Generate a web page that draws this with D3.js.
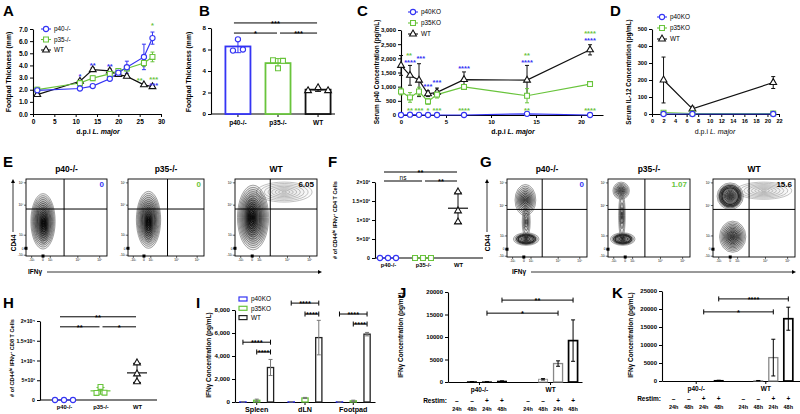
<!DOCTYPE html>
<html>
<head>
<meta charset="utf-8">
<title>IL-12 p40 / p35 figure</title>
<script src="https://cdn.jsdelivr.net/npm/d3@7"></script>
<style>
  body { margin: 0; background: #fff; }
  svg { font-family: "Liberation Sans", Arial, sans-serif; }
</style>
</head>
<body>
<div id="chart"></div>
<script>
// ---------- data ----------
// A: footpad thickness (mm)
var daysA = [1, 11, 14, 18, 20, 22, 26, 28];
var p40A = [1.95, 2.1, 2.3, 2.9, 3.4, 3.85, 4.7, 6.25];
var p40AErr = [0.1, 0.1, 0.1, 0.15, 0.2, 0.5, 1.05, 0.5];
var p35A = [2.0, 2.55, 2.95, 3.3, 3.55, 3.75, 4.2, 4.7];
var p35AErr = [0.2, 0.15, 0.2, 0.15, 0.15, 0.2, 0.3, 0.4];
var wtA = [1.6, 2.7, 3.65, 3.55, 3.25, 3.1, 2.4, 2.25];
var wtAErr = [0.1, 0.15, 0.15, 0.15, 0.1, 0.1, 0.1, 0.1];
var starsA = [
  {d: 11, v: 3.1, s: "*", c: "b"}, {d: 14, v: 4.05, s: "**", c: "b"},
  {d: 18, v: 3.95, s: "**", c: "b"}, {d: 28, v: 7.3, s: "*", c: "g"},
  {d: 25, v: 2.8, s: "**", c: "g"}, {d: 28.3, v: 2.9, s: "***", c: "g"},
  {d: 28.3, v: 2.4, s: "***", c: "b"}
];

// B: footpad thickness, day 28
var groupsB = ["p40-/-", "p35-/-", "WT"];
var pointsB = [[5.9, 6.95, 6.0], [5.0, 4.25, 4.95], [2.17, 2.45, 2.17]];
var sigB = [{a: 0, b: 2, v: 8.47, s: "***"}, {a: 0, b: 1, v: 7.53, s: "*"}, {a: 1, b: 2, v: 7.53, s: "***"}];

// C: serum p40 (pg/mL)
var daysC = [0, 1, 2, 3, 4, 7, 14, 21];
var wtC = [1750, 1400, 1230, 750, 800, 1250, 1230, 2300];
var wtCErr = [350, 350, 580, 100, 150, 270, 520, 180];
var p35C = [830, 620, 830, 480, 720, 990, 680, 1090];
var p35CErr = [120, 170, 150, 100, 120, 40, 250, 60];
var p40C = [0, 10, 5, 0, 0, 0, 40, 0];
var p40CErr = [0, 0, 0, 0, 0, 0, 20, 0];
var starsC = [
  {d: 0.9, v: 2130, s: "**", c: "g"}, {d: 1, v: 1880, s: "****", c: "b"},
  {d: 2.2, v: 2020, s: "***", c: "b"}, {d: 3, v: 1020, s: "***", c: "b"},
  {d: 4, v: 1160, s: "***", c: "b"}, {d: 7, v: 1660, s: "****", c: "b"},
  {d: 14, v: 2130, s: "**", c: "g"}, {d: 14, v: 1880, s: "****", c: "b"},
  {d: 21, v: 2910, s: "****", c: "g"}, {d: 21, v: 2660, s: "****", c: "b"},
  {d: 1, v: 180, s: "**", c: "g"}, {d: 2, v: 180, s: "***", c: "g"},
  {d: 3, v: 180, s: "*", c: "g"}, {d: 4, v: 180, s: "***", c: "g"},
  {d: 7, v: 180, s: "****", c: "g"}, {d: 14, v: 180, s: "**", c: "g"},
  {d: 21, v: 180, s: "****", c: "g"}
];

// D: serum IL-12 (pg/mL)
var daysD = [2, 7, 21];
var wtD = [200, 30, 185];
var wtDErr = [135, 15, 35];
var p35D = [8, 3, 3];
var p40D = [0, 0, 0];

// E / G: flow plot frequencies
var genotypes = ["p40-/-", "p35-/-", "WT"];
var freqE = ["0", "0", "6.05"];
var freqG = ["0", "1.07", "15.6"];
var flowTicks = ["-10³", "0", "10³", "10⁴", "10⁵"];

// F: # CD44hi IFNg+ CD4 T cells
var pointsF = [[0, 0, 0], [0, 0, 0], [1740, 1240, 950]];
var sigF = [{a: 0, b: 2, v: 2263, s: "**"}, {a: 0, b: 1, v: 2026, s: "ns"}, {a: 1, b: 2, v: 2026, s: "**"}];
var ticksF = [0, 500, 1000, 1500, 2000];
var tickLabF = ["0", "5×10²", "1×10³", "1.5×10³", "2×10³"];

// H: # CD44hi IFNg+ CD8 T cells
var pointsH = [[0, 0, 0], [1800, 3300, 1850], [9400, 6600, 4600]];
var sigH = [{a: 0, b: 2, v: 21066, s: "**"}, {a: 0, b: 1, v: 18528, s: "**"}, {a: 1, b: 2, v: 18528, s: "*"}];
var ticksH = [0, 5000, 10000, 15000, 20000];
var tickLabH = ["0", "5×10³", "1×10⁴", "1.5×10⁴", "2×10⁴"];

// I: IFNg by tissue
var tissuesI = ["Spleen", "dLN", "Footpad"];
var seriesI = ["p40KO", "p35KO", "WT"];
var p40I = [20, 20, 20], p40IErr = [15, 10, 10];
var p35I = [150, 350, 100], p35IErr = [100, 50, 60];
var wtI = [3000, 5600, 5900], wtIErr = [700, 1500, 150];
var sigI = [
  {t: "Spleen", a: 0, b: 2, v: 5200}, {t: "Spleen", a: 1, b: 2, v: 4350},
  {t: "dLN", a: 0, b: 2, v: 8600}, {t: "dLN", a: 1, b: 2, v: 7650},
  {t: "Footpad", a: 0, b: 2, v: 7650}, {t: "Footpad", a: 1, b: 2, v: 6780}
];

// J / K: IFNg after restimulation
var groupsJK = ["p40-/-", "WT"];
var restim = ["–", "–", "+", "+"];
var hours = ["24h", "48h", "24h", "48h"];
var p40J = [0, 60, 30, 180], p40JErr = [0, 40, 20, 80];
var wtJ = [0, 600, 4100, 9200], wtJErr = [0, 150, 600, 4600];
var sigJ = [{a: 3, b: 3, v: 18200, s: "**"}, {a: 2, b: 2, v: 15300, s: "*"}];
var p40K = [0, 0, 0, 150], p40KErr = [0, 0, 0, 60];
var wtK = [0, 100, 6500, 17300], wtKErr = [0, 40, 5100, 3200];
var sigK = [{a: 3, b: 3, v: 22800, s: "****"}, {a: 2, b: 2, v: 19200, s: "*"}];

// ---------- styles ----------
var BLUE = "#3434f4", GREEN = "#69c43c", BLACK = "#111";
var COL = {b: BLUE, g: GREEN};
var FONT = '"Liberation Sans", Arial, sans-serif';
var condStroke = ["#aaa", "#999", "#888", "#000"];
var condWidth = [1, 1, 1.3, 1.7];

var svg = d3.select("#chart").append("svg").attr("width", 800).attr("height", 414);

function txt(x, y, s, o) {
  o = o || {};
  return svg.append("text").attr("x", x).attr("y", y)
    .attr("font-size", o.size || 6).attr("font-weight", o.weight || "bold")
    .attr("text-anchor", o.anchor || "middle").attr("fill", o.fill || "#000")
    .attr("font-style", o.style || null).attr("font-family", FONT).text(s);
}

function rotLabel(x, y, parts, size) {
  size = size || 6.5;
  var t = svg.append("text").attr("transform", "translate(" + x + "," + y + ") rotate(-90)")
    .attr("text-anchor", "middle").attr("font-size", size).attr("font-weight", "bold").attr("font-family", FONT);
  var up = false;
  parts.forEach(function(p) {
    var s = t.append("tspan").text(p[0]);
    if (p[1] === "sup") { s.attr("font-size", size * 0.7).attr("dy", -2.5); up = true; }
    else if (up) { s.attr("dy", 2.5); up = false; }
  });
}

function dpiLabel(x, y, weight) {
  var t = svg.append("text").attr("x", x).attr("y", y).attr("text-anchor", "middle")
    .attr("font-size", 7).attr("font-weight", weight || "bold").attr("font-family", FONT);
  t.append("tspan").text("d.p.i ");
  t.append("tspan").attr("font-style", "italic").text("L. major");
}

function styleAxis(a, fs) {
  a.select(".domain").attr("stroke", "#000").attr("stroke-width", 1.1);
  a.selectAll(".tick line").attr("stroke", "#000").attr("stroke-width", 1);
  a.selectAll("text").attr("font-size", fs || 5.5).attr("font-weight", "bold")
    .attr("font-family", FONT).attr("fill", "#000");
  return a;
}

function marker(g, shape, x, y, color) {
  if (shape === "circle") {
    g.append("circle").attr("cx", x).attr("cy", y).attr("r", 2.6)
      .attr("fill", "#fff").attr("stroke", color).attr("stroke-width", 1.1);
  } else {
    var sym = shape === "square" ? d3.symbolSquare : d3.symbolTriangle;
    g.append("path").attr("d", d3.symbol(sym, shape === "square" ? 24 : 20)())
      .attr("transform", "translate(" + x + "," + y + ")")
      .attr("fill", "#fff").attr("stroke", color).attr("stroke-width", 1.1);
  }
}

function errBar(g, x, y0, y1, color, w, cap) {
  cap = cap || 2;
  g.append("line").attr("x1", x).attr("x2", x).attr("y1", y0).attr("y2", y1).attr("stroke", color).attr("stroke-width", w || 1);
  [y0, y1].forEach(function(yy) {
    g.append("line").attr("x1", x - cap).attr("x2", x + cap).attr("y1", yy).attr("y2", yy).attr("stroke", color).attr("stroke-width", w || 1);
  });
}

function letter(x, y, s) { txt(x, y, s, {size: 15, anchor: "start"}); }

function bracket(x1, x2, y, s, caps) {
  svg.append("line").attr("x1", x1).attr("x2", x2).attr("y1", y).attr("y2", y).attr("stroke", "#000").attr("stroke-width", 1);
  if (caps) {
    [x1, x2].forEach(function(xx) {
      svg.append("line").attr("x1", xx).attr("x2", xx).attr("y1", y - 2.5).attr("y2", y + 2.5).attr("stroke", "#000").attr("stroke-width", 1);
    });
  }
  if (s === "ns") txt((x1 + x2) / 2, y - 1.5, s, {size: 6.5, weight: "normal"});
  else txt((x1 + x2) / 2, y + 3, s, {size: 7.5});
}

function legend(x, y0, dy, items, kind) {
  items.forEach(function(it, i) {
    var y = y0 + i * dy;
    if (kind === "rect") {
      svg.append("rect").attr("x", x - 4).attr("y", y - 2).attr("width", 8).attr("height", 4)
        .attr("fill", "#fff").attr("stroke", it.color).attr("stroke-width", 1.2);
    } else {
      svg.append("line").attr("x1", x - 5).attr("x2", x + 5).attr("y1", y).attr("y2", y).attr("stroke", it.color).attr("stroke-width", 1.1);
      marker(svg, it.shape, x, y, it.color);
    }
    txt(x + 8, y + 2.2, it.name, {size: 6.4, weight: "normal", anchor: "start"});
  });
}

// ---------- line panels (A, C, D) ----------
function xyPanel(o) {
  var g = svg.append("g");
  var y0 = o.y.range()[0], x0 = o.x.range()[0];
  styleAxis(g.append("g").attr("transform", "translate(0," + y0 + ")")
    .call(d3.axisBottom(o.x).tickValues(o.xTicks).tickSize(3).tickSizeOuter(0).tickPadding(2)), o.fs);
  styleAxis(g.append("g").attr("transform", "translate(" + x0 + ",0)")
    .call(d3.axisLeft(o.y).tickValues(o.yTicks).tickSize(3).tickSizeOuter(0).tickPadding(2)), o.fs);
  o.series.forEach(function(s) {
    s.vals.forEach(function(v, i) {
      if (s.errs && s.errs[i] > 0) errBar(g, o.x(o.days[i]), o.y(v + s.errs[i]), o.y(Math.max(0, v - s.errs[i])), s.color, 1, 2);
    });
    g.append("path").datum(s.vals).attr("fill", "none").attr("stroke", s.color).attr("stroke-width", 1.2)
      .attr("d", d3.line().x(function(d, i) { return o.x(o.days[i]); }).y(function(d) { return o.y(d); }));
  });
  o.series.forEach(function(s) {
    s.vals.forEach(function(v, i) { marker(g, s.shape, o.x(o.days[i]), o.y(v), s.color); });
  });
  (o.stars || []).forEach(function(st) {
    txt(o.x(st.d), o.y(st.v) + 3, st.s, {size: 7.5, fill: COL[st.c]});
  });
}

// A
var xA = d3.scaleLinear().domain([0, 30]).range([33, 161]);
var yA = d3.scaleLinear().domain([0, 7]).range([114, 29]);
xyPanel({x: xA, y: yA, days: daysA, xTicks: [0, 5, 10, 15, 20, 25, 30], yTicks: d3.range(0, 8),
  series: [
    {vals: wtA, errs: wtAErr, color: BLACK, shape: "triangle"},
    {vals: p35A, errs: p35AErr, color: GREEN, shape: "square"},
    {vals: p40A, errs: p40AErr, color: BLUE, shape: "circle"}
  ], stars: starsA, fs: 6.5});
legend(46, 29, 10.5, [{name: "p40-/-", color: BLUE, shape: "circle"}, {name: "p35-/-", color: GREEN, shape: "square"}, {name: "WT", color: BLACK, shape: "triangle"}]);
rotLabel(11, 72, [["Footpad Thickness (mm)"]], 6.8);
dpiLabel(98, 134);
letter(3, 16, "A");

// C
var xC = d3.scaleLinear().domain([0, 22.44]).range([401, 603]);
var yC = d3.scaleLinear().domain([0, 3000]).range([115, 30]);
xyPanel({x: xC, y: yC, days: daysC, xTicks: [0, 5, 10, 15, 20], yTicks: d3.range(0, 3001, 500),
  series: [
    {vals: wtC, errs: wtCErr, color: BLACK, shape: "triangle"},
    {vals: p35C, errs: p35CErr, color: GREEN, shape: "square"},
    {vals: p40C, errs: p40CErr, color: BLUE, shape: "circle"}
  ], stars: starsC, fs: 6});
legend(413, 12, 11, [{name: "p40KO", color: BLUE, shape: "circle"}, {name: "p35KO", color: GREEN, shape: "square"}, {name: "WT", color: BLACK, shape: "triangle"}]);
rotLabel(379, 72, [["Serum p40 Concentration  (pg/mL)"]], 6.5);
dpiLabel(513, 134);
letter(357, 16, "C");

// D
var xD = d3.scaleLinear().domain([0, 22]).range([652, 779]);
var yD = d3.scaleLinear().domain([0, 500]).range([114, 29]);
xyPanel({x: xD, y: yD, days: daysD, xTicks: d3.range(0, 23, 2), yTicks: d3.range(0, 501, 100),
  series: [
    {vals: wtD, errs: wtDErr, color: BLACK, shape: "triangle"},
    {vals: p35D, color: GREEN, shape: "square"},
    {vals: p40D, color: BLUE, shape: "circle"}
  ], fs: 5.6});
legend(662, 17, 11, [{name: "p40KO", color: BLUE, shape: "circle"}, {name: "p35KO", color: GREEN, shape: "square"}, {name: "WT", color: BLACK, shape: "triangle"}]);
rotLabel(631, 72, [["Serum IL-12 Concentration  (pg/mL)"]], 6.3);
dpiLabel(715, 134, "normal");
letter(610, 16, "D");

// ---------- B: bar + points ----------
var xB = d3.scaleBand().domain(groupsB).range([211, 345]).paddingInner(0.375).paddingOuter(0.36);
var yB = d3.scaleLinear().domain([0, 8]).range([114, 28]);
var colB = [BLUE, GREEN, BLACK], shapeB = ["circle", "square", "triangle"];
var jitterB = [[-5, 0, 5], [-5, 0, 5], [-10, 0, 10]];
var axB = styleAxis(svg.append("g").attr("transform", "translate(0,114)")
  .call(d3.axisBottom(xB).tickSize(3).tickSizeOuter(0).tickPadding(3)), 6.5);
axB.select(".domain").attr("d", "M211,0H335");
styleAxis(svg.append("g").attr("transform", "translate(211,0)")
  .call(d3.axisLeft(yB).tickValues([0, 2, 4, 6, 8]).tickSize(3).tickSizeOuter(0).tickPadding(2)), 6.2);
groupsB.forEach(function(gname, i) {
  var m = d3.mean(pointsB[i]), sd = d3.deviation(pointsB[i]);
  var cx = xB(gname) + xB.bandwidth() / 2;
  svg.append("rect").attr("x", xB(gname)).attr("y", yB(m)).attr("width", xB.bandwidth()).attr("height", yB(0) - yB(m))
    .attr("fill", "#fff").attr("stroke", colB[i]).attr("stroke-width", 1.8);
  errBar(svg, cx, yB(m + sd), yB(m - sd), colB[i], 1, 3);
  pointsB[i].forEach(function(v, k) { marker(svg, shapeB[i], cx + jitterB[i][k], yB(v), colB[i]); });
});
sigB.forEach(function(s) {
  var c = function(k) { return xB(groupsB[k]) + xB.bandwidth() / 2; };
  bracket(c(s.a) - 4 + (s.a > 0 ? 6 : 0), c(s.b) - 1, yB(s.v), s.s, false);
});
rotLabel(191, 72, [["Footpad Thickness (mm)"]], 6.8);
letter(199, 16, "B");

// ---------- E / G: flow contour plots ----------
var boxesE = [{x0: 26, x1: 107}, {x0: 128, x1: 204}, {x0: 235, x1: 317}];
var boxesG = [{x0: 507, x1: 587}, {x0: 608, x1: 690}, {x0: 713, x1: 795}];
var gateXE = [0.47, 0.52, 0.43], gateXG = [0.44, 0.45, 0.44];
var tickRelX = [0.07, 0.21, 0.30, 0.64, 0.91];
var tickRelY = [0.99, 0.90, 0.73, 0.34, 0.05];
var blobsE = [
  [{cx: .21, cy: .55, rx: .15, ry: .36, n: 16}, {cx: .22, cy: .6, rx: .07, ry: .24, n: 7}],
  [{cx: .27, cy: .53, rx: .16, ry: .37, n: 16}, {cx: .27, cy: .58, rx: .07, ry: .24, n: 7}],
  [{cx: .6, cy: .17, rx: .34, ry: .13, n: 8, light: true}, {cx: .22, cy: .5, rx: .19, ry: .42, n: 17}, {cx: .2, cy: .5, rx: .09, ry: .28, n: 7}]
];
var blobsG = [
  [{cx: .23, cy: .27, rx: .13, ry: .2, n: 10}, {cx: .24, cy: .55, rx: .05, ry: .2, n: 5}, {cx: .24, cy: .77, rx: .16, ry: .08, n: 9, heavy: true}],
  [{cx: .16, cy: .15, rx: .1, ry: .11, n: 8}, {cx: .17, cy: .47, rx: .04, ry: .3, n: 5}, {cx: .18, cy: .77, rx: .15, ry: .08, n: 9, heavy: true}],
  [{cx: .62, cy: .15, rx: .34, ry: .11, n: 8, light: true}, {cx: .21, cy: .22, rx: .16, ry: .17, n: 12, heavy: true}, {cx: .24, cy: .74, rx: .16, ry: .2, n: 12}]
];
var numColor = [BLUE, GREEN, "#000"];
var clipId = 0;

function flowPlot(box, y0, y1, blobs, gx, num, ncol, title) {
  var fx = d3.scaleLinear().range([box.x0, box.x1]);
  var fy = d3.scaleLinear().range([y0, y1]);
  var id = "clip" + (clipId++);
  svg.append("clipPath").attr("id", id).append("rect")
    .attr("x", box.x0).attr("y", y0).attr("width", box.x1 - box.x0).attr("height", y1 - y0);
  var g = svg.append("g").attr("clip-path", "url(#" + id + ")");
  var gray = d3.interpolateRgb("#8a8a8a", "#000");
  blobs.forEach(function(b) {
    for (var k = b.n; k >= 1; k--) {
      var t = Math.pow(k / b.n, 1.15);
      g.append("ellipse").attr("cx", fx(b.cx)).attr("cy", fy(b.cy))
        .attr("rx", (box.x1 - box.x0) * b.rx * t).attr("ry", (y1 - y0) * b.ry * t)
        .attr("fill", "#000").attr("fill-opacity", b.light ? 0.015 : 0.06)
        .attr("stroke", b.light ? "#999" : gray(Math.min(1, 1.4 * (1 - k / b.n) + 0.25)))
        .attr("stroke-width", b.heavy && k > b.n * 0.6 && k < b.n * 0.85 ? 1.4 : 0.6);
    }
  });
  svg.append("rect").attr("x", box.x0).attr("y", y0).attr("width", box.x1 - box.x0).attr("height", y1 - y0)
    .attr("fill", "none").attr("stroke", "#000").attr("stroke-width", 0.9);
  svg.append("line").attr("x1", fx(gx)).attr("x2", fx(gx)).attr("y1", y0).attr("y2", y1).attr("stroke", "#000").attr("stroke-width", 1);
  svg.append("line").attr("x1", box.x0).attr("x2", box.x1).attr("y1", fy(0.39)).attr("y2", fy(0.39)).attr("stroke", "#000").attr("stroke-width", 1);
  flowTicks.forEach(function(lab, i) {
    var yy = fy(tickRelY[i]), xx = fx(tickRelX[i]);
    svg.append("line").attr("x1", box.x0 - 2).attr("x2", box.x0).attr("y1", yy).attr("y2", yy).attr("stroke", "#000").attr("stroke-width", 0.6);
    txt(box.x0 - 2.5, yy + 1.2, lab, {size: 3.2, weight: "normal", anchor: "end"});
    svg.append("line").attr("x1", xx).attr("x2", xx).attr("y1", y1).attr("y2", y1 + 2).attr("stroke", "#000").attr("stroke-width", 0.6);
    txt(xx, y1 + 5, lab, {size: 3.2, weight: "normal"});
  });
  svg.append("rect").attr("x", box.x0 - 1.5).attr("y", fy(tickRelY[1]) - 1.5).attr("width", 3).attr("height", 3).attr("fill", "#000");
  svg.append("rect").attr("x", fx(tickRelX[1]) - 1.5).attr("y", y1 - 1.5).attr("width", 3).attr("height", 3).attr("fill", "#000");
  txt(box.x1 - 3, y0 + 8, num, {size: 8, fill: ncol, anchor: "end"});
  txt((box.x0 + box.x1) / 2, 172, title, {size: 8.5});
}

function flowAxes(ax, x0, x1, ylab, xlab) {
  var ah = function(x, y, dir) {
    var d = dir === "up" ? "M" + (x - 2) + "," + (y + 4) + "L" + x + "," + y + "L" + (x + 2) + "," + (y + 4) + "Z"
                         : "M" + (x - 4) + "," + (y - 2) + "L" + x + "," + y + "L" + (x - 4) + "," + (y + 2) + "Z";
    svg.append("path").attr("d", d).attr("fill", "#000");
  };
  svg.append("line").attr("x1", ax).attr("x2", ax).attr("y1", 232).attr("y2", 181).attr("stroke", "#000").attr("stroke-width", 0.8);
  ah(ax, 179, "up");
  rotLabel(ax + 2.5, 243, [[ylab]], 6.5);
  txt(x0, 274, xlab, {size: 6.5, anchor: "start"});
  svg.append("line").attr("x1", x0 + 19).attr("x2", x1 - 2).attr("y1", 272).attr("y2", 272).attr("stroke", "#000").attr("stroke-width", 0.8);
  ah(x1, 272, "right");
}

genotypes.forEach(function(gt, i) {
  flowPlot(boxesE[i], 179, 256, blobsE[i], gateXE[i], freqE[i], numColor[i], gt);
  flowPlot(boxesG[i], 179, 257, blobsG[i], gateXG[i], freqG[i], numColor[i], gt);
});
flowAxes(13, 28, 322, "CD44", "IFNγ");
flowAxes(487, 512, 796, "CD44", "IFNγ");
letter(3, 167, "E");
letter(480, 167, "G");

// ---------- F / H: dot plots with mean ± SD ----------
function dotPanel(o) {
  var x = d3.scalePoint().domain(genotypes).range(o.xr);
  var ax = styleAxis(svg.append("g").attr("transform", "translate(0," + o.y.range()[0] + ")")
    .call(d3.axisBottom(x).tickSize(0).tickSizeOuter(0).tickPadding(5)), 5.8);
  ax.select(".domain").attr("d", "M" + o.axX[0] + ",0H" + o.axX[1]);
  styleAxis(svg.append("g").attr("transform", "translate(" + o.axX[0] + ",0)")
    .call(d3.axisLeft(o.y).tickValues(o.ticks).tickFormat(function(d, i) { return o.labs[i]; }).tickSize(3).tickSizeOuter(0).tickPadding(2)), 5.2);
  genotypes.forEach(function(gt, i) {
    var pts = o.points[i], cx = x(gt);
    var m = d3.mean(pts), sd = d3.deviation(pts);
    var c = colB[i];
    if (sd > 0) {
      svg.append("line").attr("x1", cx).attr("x2", cx).attr("y1", o.y(m + sd)).attr("y2", o.y(m - sd)).attr("stroke", c).attr("stroke-width", 1);
      [m + sd, m - sd].forEach(function(v) {
        svg.append("line").attr("x1", cx - 4).attr("x2", cx + 4).attr("y1", o.y(v)).attr("y2", o.y(v)).attr("stroke", c).attr("stroke-width", 1);
      });
    }
    svg.append("line").attr("x1", cx - 10).attr("x2", cx + 10).attr("y1", o.y(m)).attr("y2", o.y(m)).attr("stroke", c).attr("stroke-width", 1.2);
    pts.forEach(function(v, k) { marker(svg, shapeB[i], cx + o.jit[i][k], o.y(v), c); });
  });
  o.sig.forEach(function(s) {
    bracket(x(genotypes[s.a]) - 4 + (s.a > 0 ? 6 : 0), x(genotypes[s.b]) - 1, o.y(s.v), s.s, false);
  });
}

dotPanel({xr: [388, 458], axX: [375, 483], y: d3.scaleLinear().domain([0, 2000]).range([258, 182]),
  ticks: ticksF, labs: tickLabF, points: pointsF, sig: sigF, jit: [[-8, 0, 8], [-8, 0, 8], [0, 0, 0]]});
rotLabel(337, 220, [["# of CD44"], ["hi", "sup"], [" IFNγ"], ["+", "sup"], [" CD4 T Cells"]], 5.6);
letter(328, 167, "F");

dotPanel({xr: [64, 137], axX: [40, 157], y: d3.scaleLinear().domain([0, 20000]).range([400, 321]),
  ticks: ticksH, labs: tickLabH, points: pointsH, sig: sigH, jit: [[-9, 0, 9], [-4, 0, 4], [0, 0, 0]]});
rotLabel(14, 358, [["# of CD44"], ["hi", "sup"], [" IFNγ"], ["+", "sup"], [" CD8 T Cells"]], 5.6);
letter(3, 308, "H");

// ---------- I: grouped bars by tissue ----------
var x0I = d3.scaleBand().domain(tissuesI).range([235, 375]).paddingInner(0.3).paddingOuter(0.1);
var x1I = d3.scaleBand().domain(seriesI).range([0, x0I.bandwidth()]).paddingInner(0.55);
var yI = d3.scaleLinear().domain([0, 8000]).range([402, 310]);
var valsI = [p40I, p35I, wtI], errsI = [p40IErr, p35IErr, wtIErr];
var colI = [BLUE, GREEN, "#222"];
styleAxis(svg.append("g").attr("transform", "translate(0,402)")
  .call(d3.axisBottom(x0I).tickSize(3).tickSizeOuter(0).tickPadding(2)), 7.2);
styleAxis(svg.append("g").attr("transform", "translate(235,0)")
  .call(d3.axisLeft(yI).tickValues([0, 2000, 4000, 6000, 8000]).tickSize(3).tickSizeOuter(0).tickPadding(2)), 6.2);
tissuesI.forEach(function(t, ti) {
  seriesI.forEach(function(s, si) {
    var v = valsI[si][ti], e = errsI[si][ti];
    var bx = x0I(t) + x1I(s), cx = bx + x1I.bandwidth() / 2;
    svg.append("rect").attr("x", bx).attr("y", yI(v)).attr("width", x1I.bandwidth()).attr("height", yI(0) - yI(v))
      .attr("fill", "#fff").attr("stroke", colI[si]).attr("stroke-width", 1.3);
    errBar(svg, cx, yI(v + e), yI(Math.max(0, v - e)), "#777", 1, 2);
  });
});
sigI.forEach(function(s) {
  var c = function(k) { return x0I(s.t) + x1I(seriesI[k]) + x1I.bandwidth() / 2; };
  bracket(c(s.a), c(s.b), yI(s.v), "****", true);
});
legend(243, 299, 9.3, [{name: "p40KO", color: BLUE}, {name: "p35KO", color: GREEN}, {name: "WT", color: "#222"}], "rect");
rotLabel(211, 355, [["IFNγ Concentration  (pg/mL)"]], 6.5);
letter(196, 308, "I");

// ---------- J / K: restimulation bars ----------
function restimPanel(o) {
  var x0 = d3.scaleBand().domain(groupsJK).range(o.xr).paddingInner(o.pi).paddingOuter(o.po);
  var x1 = d3.scaleBand().domain(d3.range(4)).range([0, x0.bandwidth()]).paddingInner(0.4).paddingOuter(0.2);
  var y = o.y;
  styleAxis(svg.append("g").attr("transform", "translate(0," + y.range()[0] + ")")
    .call(d3.axisBottom(x0).tickSize(3).tickSizeOuter(0).tickPadding(2)), 6.5);
  styleAxis(svg.append("g").attr("transform", "translate(" + o.xr[0] + ",0)")
    .call(d3.axisLeft(y).tickValues(o.ticks).tickFormat(d3.format("d")).tickSize(3).tickSizeOuter(0).tickPadding(2)), 6);
  var cx = function(gi, k) { return x0(groupsJK[gi]) + x1(k) + x1.bandwidth() / 2; };
  [o.p40, o.wt].forEach(function(vals, gi) {
    var errs = gi === 0 ? o.p40Err : o.wtErr;
    vals.forEach(function(v, k) {
      var bx = x0(groupsJK[gi]) + x1(k);
      var stroke = gi === 0 ? "#000" : condStroke[k];
      if (v > 0) {
        svg.append("rect").attr("x", bx).attr("y", y(v)).attr("width", x1.bandwidth()).attr("height", y(0) - y(v))
          .attr("fill", "#fff").attr("stroke", stroke).attr("stroke-width", gi === 0 ? 1 : condWidth[k]);
      }
      if (errs[k] > 0) errBar(svg, cx(gi, k), y(v + errs[k]), y(Math.max(0, v - errs[k])), "#000", 1, 2);
      txt(cx(gi, k), o.rowY, restim[k], {size: 6.5});
      txt(cx(gi, k), o.rowY + 8, hours[k], {size: 5.5});
    });
  });
  txt(o.xr[0] - 1, o.rowY, "Restim:", {size: 6.5, anchor: "end"});
  o.sig.forEach(function(s) { bracket(cx(0, s.a), cx(1, s.b), y(s.v), s.s, true); });
}

restimPanel({xr: [448, 582], pi: 0.155, po: 0.02, y: d3.scaleLinear().domain([0, 20000]).range([382, 292]),
  ticks: [0, 5000, 10000, 15000, 20000], p40: p40J, p40Err: p40JErr, wt: wtJ, wtErr: wtJErr, sig: sigJ, rowY: 403});
rotLabel(403, 335, [["IFNγ Concentration  (pg/mL)"]], 6.5);
letter(398, 298, "J");

restimPanel({xr: [662, 800], pi: 0.137, po: 0.06, y: d3.scaleLinear().domain([0, 25000]).range([381, 291]),
  ticks: [0, 5000, 10000, 15000, 20000, 25000], p40: p40K, p40Err: p40KErr, wt: wtK, wtErr: wtKErr, sig: sigK, rowY: 401});
rotLabel(633, 335, [["IFNγ Concentration  (pg/mL)"]], 6.5);
letter(612, 298, "K");
</script>
</body>
</html>
